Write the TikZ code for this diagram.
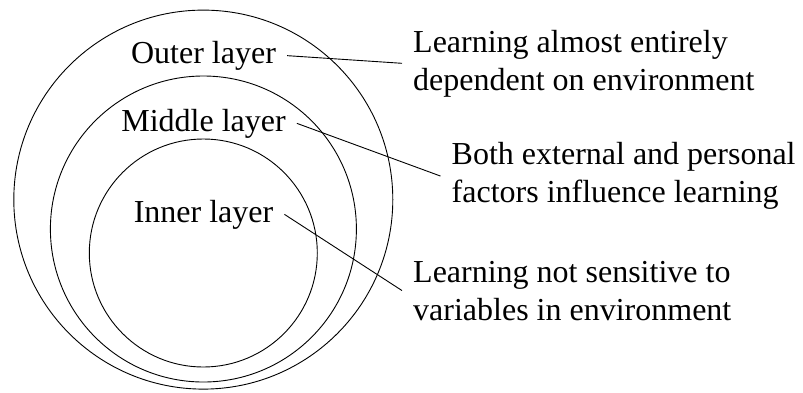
\documentclass[tikz,border=0pt]{standalone}
\usepackage{fontspec}
\setmainfont{Liberation Serif}
\begin{document}
\begin{tikzpicture}[x=1pt,y=-1pt,
  txt/.style={font=\fontsize{32}{38}\selectfont, inner xsep=11pt, inner ysep=0pt},
  layer/.style={txt, anchor=base},
  desc/.style={txt, align=left, anchor=base west},
  ring/.style={draw, line width=0.9pt},
  lead/.style={draw, line width=0.9pt}]
\useasboundingbox (0,0) rectangle (803,392);
\draw[ring] (203.3,199.6) circle[radius=189.5];
\draw[ring] (203.4,229) circle[radius=153];
\draw[ring] (203.3,253) circle[radius=114];
\node[layer] (o) at (203.5,63.3) {Outer layer};
\node[layer] (m) at (203.5,131) {Middle layer};
\node[layer] (i) at (203.5,222) {Inner layer};
\node[desc] (t1) at (402,90) {Learning almost entirely\\dependent on environment};
\node[desc] (t2) at (440.5,202.7) {Both external and personal\\factors influence learning};
\node[desc] (t3) at (402,320) {Learning not sensitive to\\variables in environment};
\draw[lead] (o.east) -- (t1.west);
\draw[lead] (m.east) -- (t2.west);
\draw[lead] (i.east) -- (t3.west);
\end{tikzpicture}
\end{document}
